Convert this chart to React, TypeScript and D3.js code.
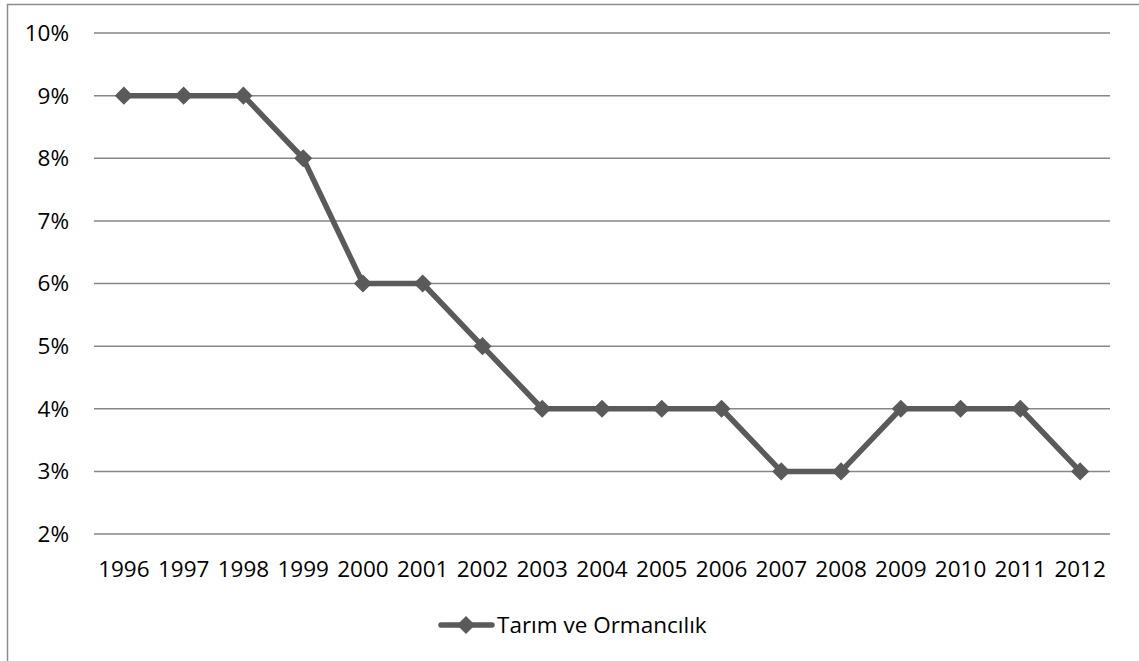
import React, { useEffect, useRef } from 'react';
import * as d3 from 'd3';

const years = ['1996', '1997', '1998', '1999', '2000', '2001', '2002', '2003', '2004', '2005', '2006', '2007', '2008', '2009', '2010', '2011', '2012'];
const values = [9, 9, 9, 8, 6, 6, 5, 4, 4, 4, 4, 3, 3, 4, 4, 4, 3];
const yTicks = [2, 3, 4, 5, 6, 7, 8, 9, 10];
const seriesName = 'Tarım ve Ormancılık';

const App: React.FC = () => {
  const svgRef = useRef<SVGSVGElement | null>(null);

  useEffect(() => {
    const width = 1139;
    const height = 661;
    const margin = { top: 33, right: 29, bottom: 127, left: 94 };
    const font = "'Open Sans', 'Noto Sans', sans-serif";
    const fontSize = 22.5;
    const lineColor = '#5a5a5a';

    const svg = d3.select(svgRef.current)
      .attr('width', width)
      .attr('height', height);
    svg.selectAll('*').remove();

    // chart area border
    svg.append('rect')
      .attr('x', 7.5).attr('y', 4.5)
      .attr('width', width + 10).attr('height', height + 10)
      .attr('fill', 'white')
      .attr('stroke', '#8c8c8c')
      .attr('stroke-width', 1.5);

    const x = d3.scaleBand()
      .domain(years)
      .range([margin.left, width - margin.right]);

    const y = d3.scaleLinear()
      .domain([2, 10])
      .range([height - margin.bottom, margin.top]);

    // gridlines
    svg.append('g')
      .selectAll('line')
      .data(yTicks)
      .join('line')
      .attr('x1', margin.left)
      .attr('x2', width - margin.right)
      .attr('y1', d => y(d))
      .attr('y2', d => y(d))
      .attr('stroke', '#868686')
      .attr('stroke-width', 1.5);

    // y labels
    svg.append('g')
      .selectAll('text')
      .data(yTicks)
      .join('text')
      .attr('x', 69)
      .attr('y', d => y(d))
      .attr('dy', '0.35em')
      .attr('text-anchor', 'end')
      .attr('font-family', font)
      .attr('font-size', fontSize)
      .attr('fill', '#000')
      .text(d => `${d}%`);

    // x labels
    svg.append('g')
      .selectAll('text')
      .data(years)
      .join('text')
      .attr('x', d => (x(d) as number) + x.bandwidth() / 2)
      .attr('y', y(2) + 35)
      .attr('dy', '0.35em')
      .attr('text-anchor', 'middle')
      .attr('font-family', font)
      .attr('font-size', fontSize)
      .attr('fill', '#000')
      .text(d => d);

    const cx = (i: number) => (x(years[i]) as number) + x.bandwidth() / 2;

    const line = d3.line<number>()
      .x((_, i) => cx(i))
      .y(d => y(d));

    svg.append('path')
      .datum(values)
      .attr('fill', 'none')
      .attr('stroke', lineColor)
      .attr('stroke-width', 5.5)
      .attr('stroke-linejoin', 'round')
      .attr('d', line);

    const diamond = d3.symbol().type(d3.symbolDiamond2).size(210);

    svg.append('g')
      .selectAll('path')
      .data(values)
      .join('path')
      .attr('transform', (d, i) => `translate(${cx(i)},${y(d)})`)
      .attr('d', diamond)
      .attr('fill', lineColor);

    // legend
    const ly = 625;
    svg.append('line')
      .attr('x1', 441).attr('x2', 492)
      .attr('y1', ly).attr('y2', ly)
      .attr('stroke', lineColor)
      .attr('stroke-width', 5.5)
      .attr('stroke-linecap', 'round');
    svg.append('path')
      .attr('transform', `translate(466,${ly})`)
      .attr('d', diamond)
      .attr('fill', lineColor);
    svg.append('text')
      .attr('x', 497)
      .attr('y', ly)
      .attr('dy', '0.35em')
      .attr('font-family', font)
      .attr('font-size', fontSize)
      .attr('fill', '#000')
      .text(seriesName);
  }, []);

  return (
    <svg ref={svgRef} style={{ position: 'absolute', left: 0, top: 0, display: 'block' }}></svg>
  );
};

export default App;
